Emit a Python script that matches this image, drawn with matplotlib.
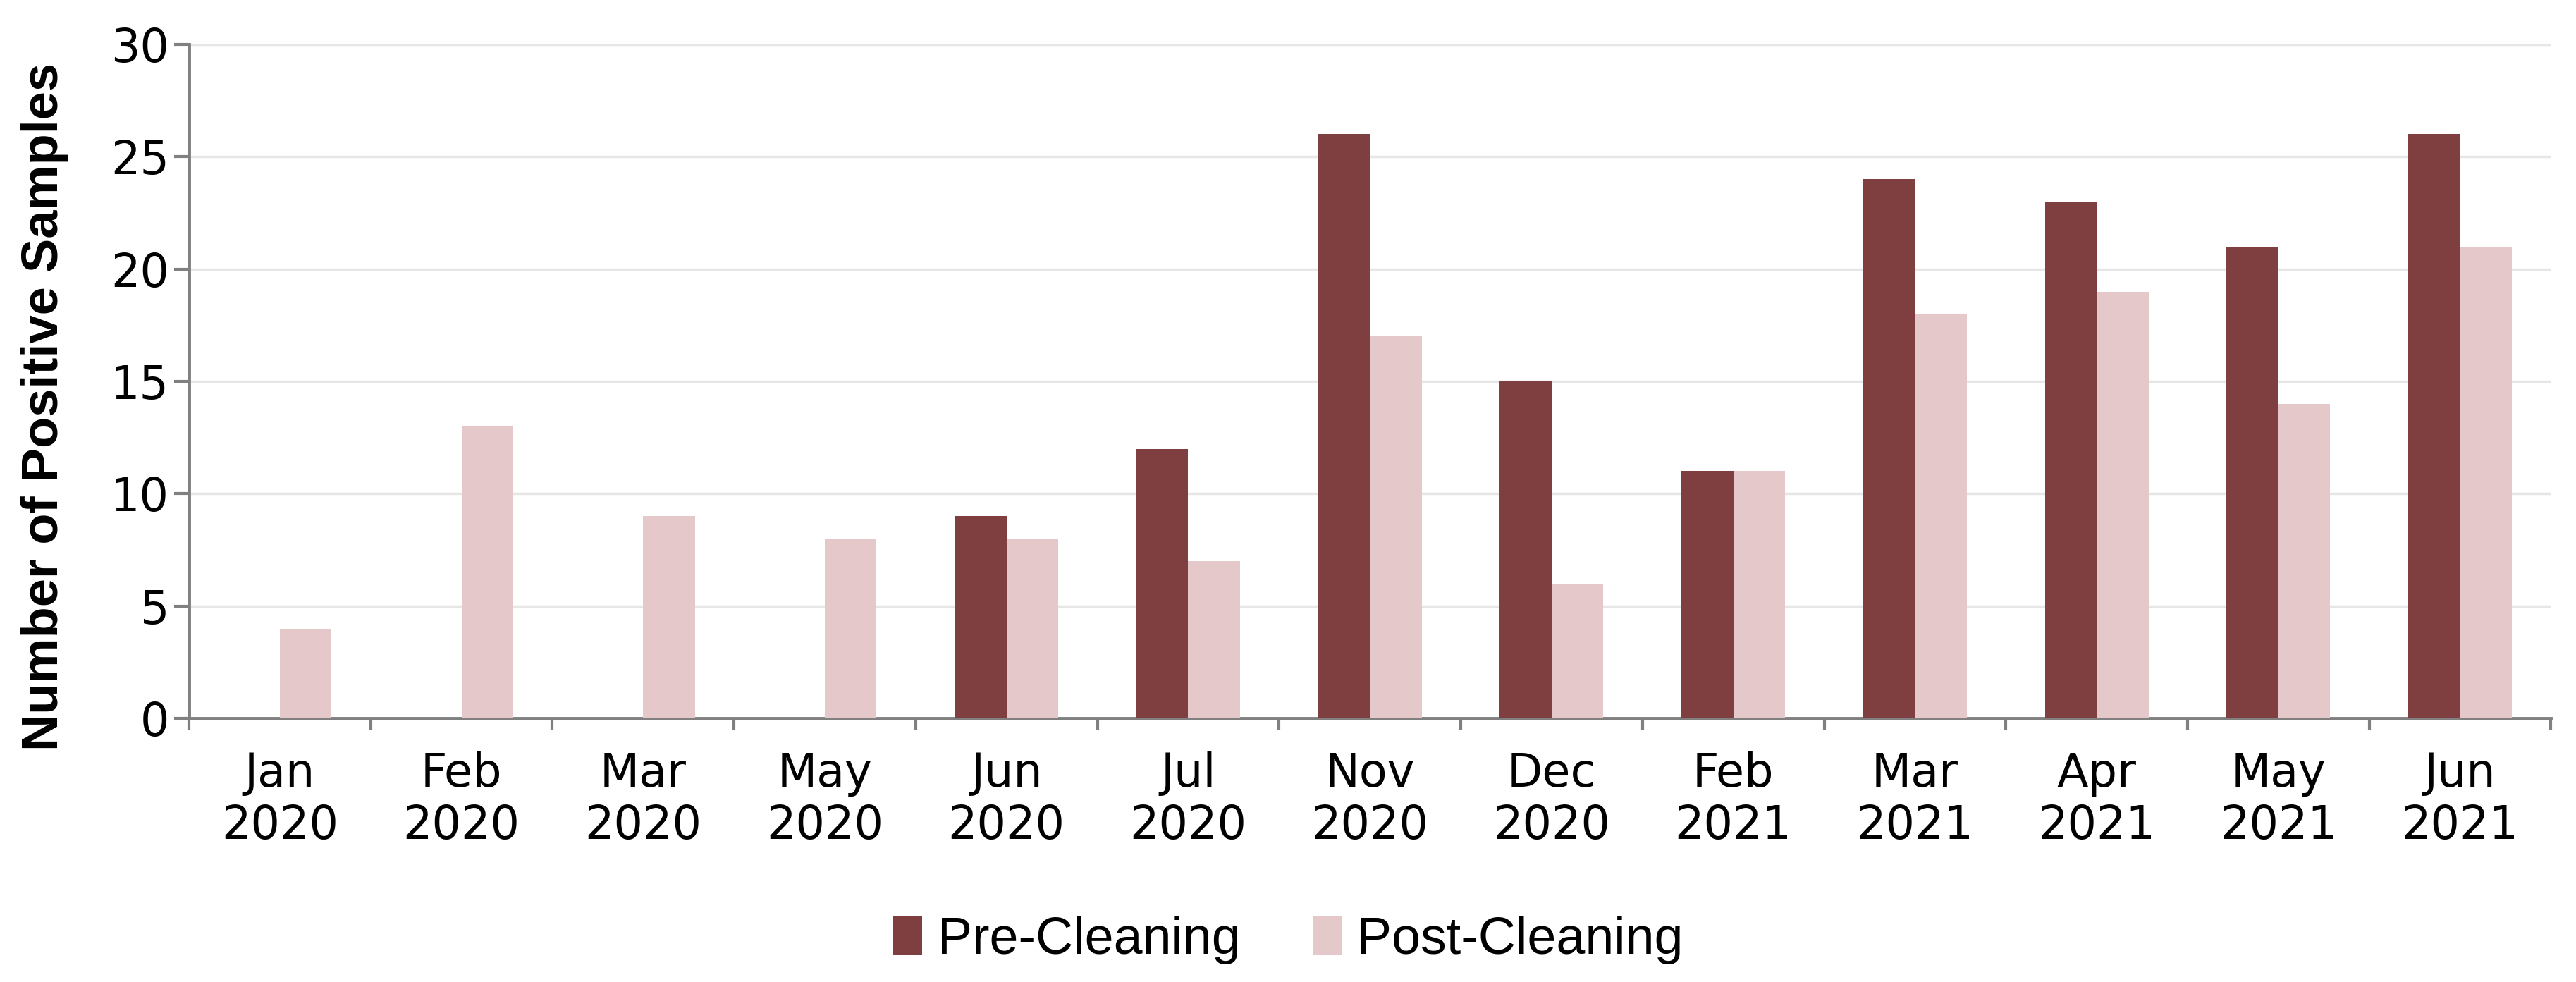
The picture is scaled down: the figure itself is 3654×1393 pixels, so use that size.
import matplotlib.pyplot as plt
import numpy as np

# data
months = ['Jan\n2020', 'Feb\n2020', 'Mar\n2020', 'May\n2020', 'Jun\n2020', 'Jul\n2020',
          'Nov\n2020', 'Dec\n2020', 'Feb\n2021', 'Mar\n2021', 'Apr\n2021', 'May\n2021', 'Jun\n2021']
pre_cleaning = [0, 0, 0, 0, 9, 12, 26, 15, 11, 24, 23, 21, 26]
post_cleaning = [4, 13, 9, 8, 8, 7, 17, 6, 11, 18, 19, 14, 21]

plt.rcParams['font.family'] = ['Liberation Sans', 'DejaVu Sans']

fig = plt.figure(figsize=(36.55, 13.93), dpi=100)
ax = fig.add_axes([0.0733, 0.2685, 0.9167, 0.6863])

x = np.arange(len(months))
w = 0.285
ax.bar(x - w / 2, pre_cleaning, w, color='#7F3F40', label='Pre-Cleaning', zorder=3)
ax.bar(x + w / 2, post_cleaning, w, color='#E5C8CA', label='Post-Cleaning', zorder=3)

ax.set_xlim(-0.5, len(months) - 0.5)
ax.set_ylim(0, 30)
ax.set_yticks(range(0, 31, 5))
ax.yaxis.grid(True, color='#E6E6E6', linewidth=2.5, zorder=0)

# category labels centred, ticks at category boundaries
ax.set_xticks(x)
ax.set_xticklabels(months, fontsize=47, linespacing=1.2, family='DejaVu Sans')
ax.set_xticks(np.arange(-0.5, len(months)), minor=True)
ax.tick_params(axis='x', which='major', length=0, pad=34)
ax.tick_params(axis='x', which='minor', length=12, width=3, color='#808080', direction='out')
ax.tick_params(axis='y', labelsize=47, length=15, width=3, color='#808080', pad=5)
for lbl in ax.get_yticklabels():
    lbl.set_family('DejaVu Sans')

for side in ['top', 'right']:
    ax.spines[side].set_visible(False)
for side in ['left', 'bottom']:
    ax.spines[side].set_color('#808080')
    ax.spines[side].set_linewidth(3.5)

ax.set_ylabel('Number of Positive Samples', fontsize=52, fontweight='bold')
ax.yaxis.set_label_coords(-0.051, 0.462)

fig.legend(loc='center', bbox_to_anchor=(0.5, 0.043), ncol=2, frameon=False,
           prop={'size': 53},
           handlelength=0.55, handleheight=0.8, handletextpad=0.3, columnspacing=1.4)

fig.savefig('out.png', dpi=100)
